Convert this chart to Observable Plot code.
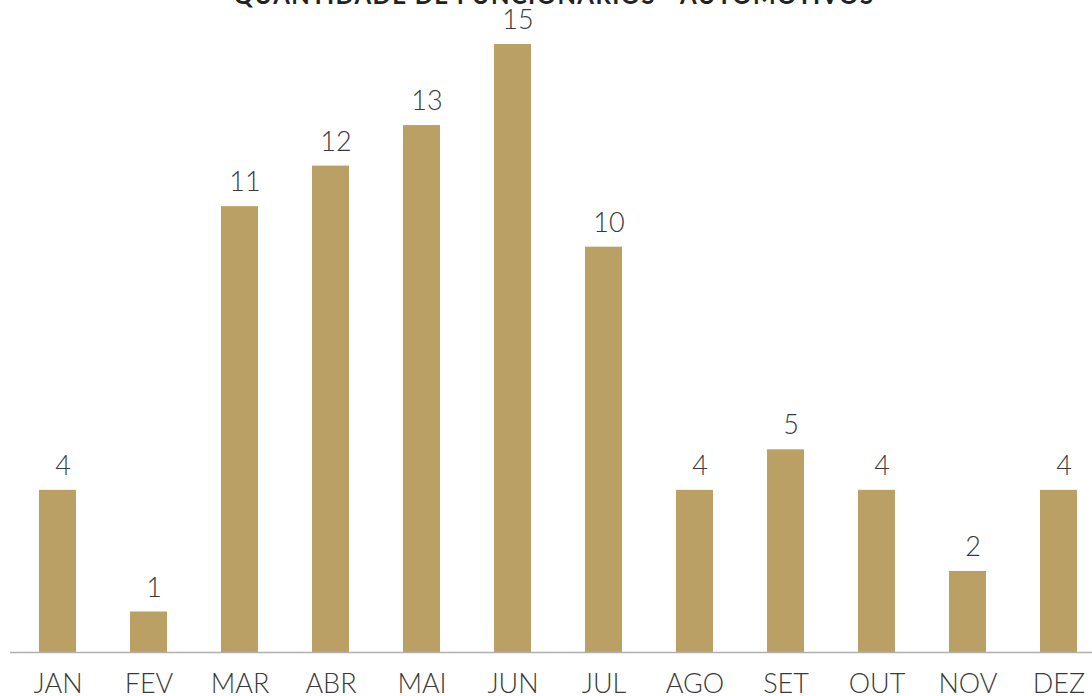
<!DOCTYPE html>
<html>
<head>
<meta charset="utf-8">
<script src="https://cdn.jsdelivr.net/npm/d3@7"></script>
<script src="https://cdn.jsdelivr.net/npm/@observablehq/plot@0.6"></script>
<style>
  html, body { margin: 0; padding: 0; background: #fff; overflow: hidden; }
  #wrap { position: relative; width: 1092px; height: 696px; }
  #title { position: absolute; top: -20px; left: 0; width: 1108px; text-align: center;
           font-family: "Lato", sans-serif; font-weight: 700; font-size: 24px; letter-spacing: 1.4px; color: #222; white-space: nowrap; }
  #chart { position: absolute; top: 0; left: 0; }
  svg { font-family: "Lato", sans-serif; }
</style>
</head>
<body>
<div id="wrap">
  <div id="chart"></div>
  <div id="title">QUANTIDADE DE FUNCIONÁRIOS - AUTOMOTIVOS</div>
</div>
<script>
const months = ["JAN","FEV","MAR","ABR","MAI","JUN","JUL","AGO","SET","OUT","NOV","DEZ"];
const values = [4, 1, 11, 12, 13, 15, 10, 4, 5, 4, 2, 4];
const data = months.map((m, i) => ({month: m, value: values[i]}));

const chart = Plot.plot({
  width: 1092,
  height: 696,
  marginLeft: 10,
  marginRight: 0,
  marginTop: 0,
  marginBottom: 0,
  x: {domain: months, range: [12, 1105], paddingInner: 0.59, paddingOuter: 0.295, axis: null},
  y: {domain: [0, 15], range: [652, 44], axis: null},
  marks: [
    Plot.barY(data, {x: "month", y: "value", fill: "#BBA066"}),
    Plot.ruleY([0], {stroke: "#b0b0b0", strokeWidth: 1.5}),
    Plot.text(data, {x: "month", y: "value", text: d => String(d.value), dy: -24, dx: 5,
      fontSize: 27, fontWeight: 300, fill: "#3a3a3a"}),
    Plot.text(data, {x: "month", y: 0, text: "month", dy: 32, fontSize: 27, fontWeight: 300, fill: "#3a3a3a"})
  ]
});
document.getElementById("chart").appendChild(chart);
</script>
</body>
</html>
